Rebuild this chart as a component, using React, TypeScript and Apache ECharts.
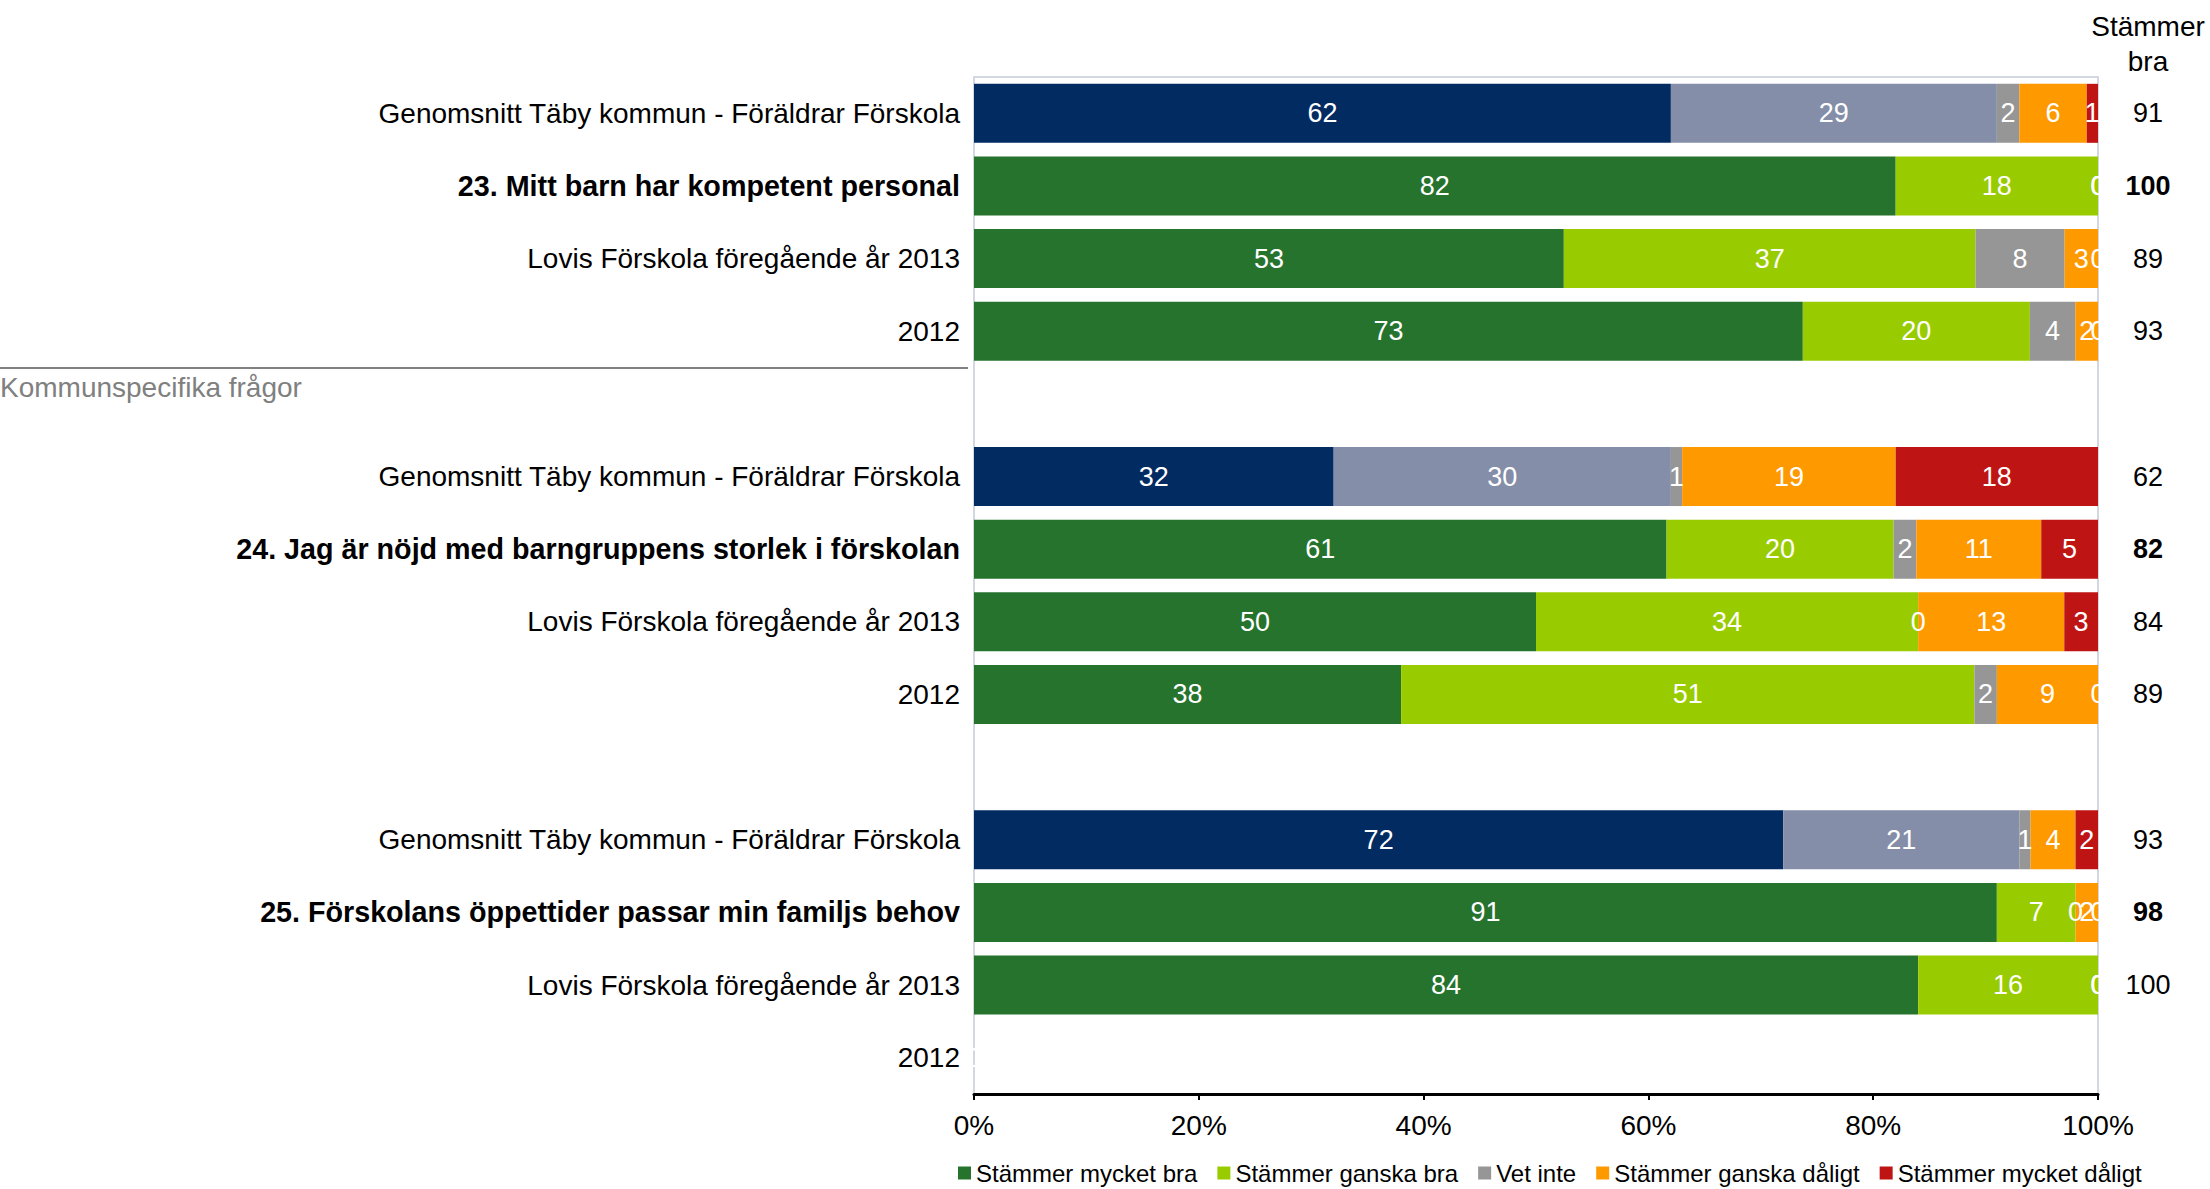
import React, { useEffect, useRef } from "react";
import * as echarts from "echarts";

const FONT = "'Liberation Sans', Arial, Helvetica, sans-serif";

const categories = [
  "Genomsnitt Täby kommun - Föräldrar Förskola",
  "23. Mitt barn har kompetent personal",
  "Lovis Förskola föregående år 2013",
  "2012",
  "",
  "Genomsnitt Täby kommun - Föräldrar Förskola",
  "24. Jag är nöjd med barngruppens storlek i förskolan",
  "Lovis Förskola föregående år 2013",
  "2012",
  "",
  "Genomsnitt Täby kommun - Föräldrar Förskola",
  "25. Förskolans öppettider passar min familjs behov",
  "Lovis Förskola föregående år 2013",
  "2012",
];
const boldRows = [false, true, false, false, false, false, true, false, false, false, false, true, false, false];
const averageRows = [true, false, false, false, false, true, false, false, false, false, true, false, false, false];

const seriesNames = [
  "Stämmer mycket bra",
  "Stämmer ganska bra",
  "Vet inte",
  "Stämmer ganska dåligt",
  "Stämmer mycket dåligt",
];
const mycketBra = [62, 82, 53, 73, null, 32, 61, 50, 38, null, 72, 91, 84, 0];
const ganskaBra = [29, 18, 37, 20, null, 30, 20, 34, 51, null, 21, 7, 16, 0];
const vetInte = [2, 0, 8, 4, null, 1, 2, 0, 2, null, 1, 0, 0, 0];
const ganskaDaligt = [6, 0, 3, 2, null, 19, 11, 13, 9, null, 4, 2, 0, 0];
const mycketDaligt = [1, 0, 0, 0, null, 18, 5, 3, 0, null, 2, 0, 0, 0];
const stammerBra = ["91", "100", "89", "93", "", "62", "82", "84", "89", "", "93", "98", "100", ""];

const xTicks = [0, 20, 40, 60, 80, 100];

const seriesColors = ["#26732E", "#99CC00", "#969696", "#FF9900", "#BF1414"];
const averageColors = ["#022B62", "#848EA8"];

export default function App() {
  const ref = useRef<HTMLDivElement>(null);

  useEffect(() => {
    if (!ref.current) return;
    const chart = echarts.init(ref.current, null, { renderer: "svg" });
    const values = [mycketBra, ganskaBra, vetInte, ganskaDaligt, mycketDaligt];
    const idx = categories.map((_, i) => String(i));
    // 100% stacked: each row is scaled to fill the full width, labels keep the shown (rounded) values
    const rowSums = categories.map((_, i) =>
      values.reduce((acc, arr) => acc + (arr[i] === null ? 0 : (arr[i] as number)), 0)
    );

    const series = values.map((arr, s) => ({
      name: seriesNames[s],
      type: "bar",
      stack: "total",
      yAxisIndex: 0,
      barWidth: 59,
      itemStyle: { color: seriesColors[s] },
      label: {
        show: true,
        position: "inside",
        color: "#ffffff",
        fontSize: 27,
        fontFamily: FONT,
        textBorderWidth: 0,
        formatter: (p: any) => {
          const raw = arr[p.dataIndex];
          return raw === null || raw === undefined ? "" : String(raw);
        },
      },
      data: arr.map((v, i) => {
        if (v === null) return null;
        const scaled = rowSums[i] > 0 ? (v * 100) / rowSums[i] : 0;
        return s < 2 && averageRows[i]
          ? { value: scaled, itemStyle: { color: averageColors[s] } }
          : { value: scaled };
      }),
    }));

    chart.setOption({
      animation: false,
      backgroundColor: "#ffffff",
      textStyle: { fontFamily: FONT },
      grid: {
        left: 974,
        right: 112,
        top: 77,
        bottom: 95,
        show: true,
        borderColor: "#D3D7E0",
        borderWidth: 2,
        containLabel: false,
      },
      legend: {
        left: 958,
        top: 1160,
        itemWidth: 13,
        itemHeight: 13,
        itemGap: 20,
        padding: 0,
        icon: "rect",
        data: seriesNames,
        textStyle: { fontSize: 24, color: "#000", fontFamily: FONT, lineHeight: 26 },
      },
      xAxis: {
        type: "value",
        min: xTicks[0],
        max: xTicks[xTicks.length - 1],
        interval: 20,
        axisLine: { show: true, lineStyle: { color: "#000", width: 3 } },
        axisTick: { show: true, length: 6, lineStyle: { color: "#000", width: 2 } },
        axisLabel: { formatter: "{value}%", fontSize: 28, color: "#000", margin: 17, fontFamily: FONT },
        splitLine: { show: false },
      },
      yAxis: [
        {
          type: "category",
          inverse: true,
          data: idx,
          axisLine: { show: false },
          axisTick: { show: false },
          axisLabel: {
            interval: 0,
            margin: 14,
            formatter: (v: string) => {
              const i = Number(v);
              const t = categories[i];
              if (!t) return "";
              return boldRows[i] ? `{b|${t}}` : `{n|${t}}`;
            },
            rich: {
              n: { fontSize: 28, color: "#000", fontFamily: FONT },
              b: { fontSize: 28.7, color: "#000", fontWeight: "bold", fontFamily: FONT },
            },
          },
        },
        {
          type: "category",
          inverse: true,
          position: "right",
          data: idx,
          axisLine: { show: false },
          axisTick: { show: false },
          axisLabel: {
            interval: 0,
            margin: 50,
            align: "center",
            formatter: (v: string) => {
              const i = Number(v);
              const t = stammerBra[i];
              if (!t) return "";
              return boldRows[i] ? `{b|${t}}` : `{n|${t}}`;
            },
            rich: {
              n: { fontSize: 27, color: "#000", fontFamily: FONT },
              b: { fontSize: 27, color: "#000", fontWeight: "bold", fontFamily: FONT },
            },
          },
        },
      ],
      graphic: [
        {
          type: "text",
          x: 2148,
          y: 26,
          style: { text: "Stämmer", fontSize: 28, fill: "#000", align: "center", verticalAlign: "middle", fontFamily: FONT },
        },
        {
          type: "text",
          x: 2148,
          y: 61,
          style: { text: "bra", fontSize: 28, fill: "#000", align: "center", verticalAlign: "middle", fontFamily: FONT },
        },
        {
          type: "line",
          shape: { x1: 0, y1: 368, x2: 968, y2: 368 },
          style: { stroke: "#808080", lineWidth: 2 },
        },
        {
          type: "text",
          x: 0,
          y: 387,
          style: { text: "Kommunspecifika frågor", fontSize: 28, fill: "#808080", align: "left", verticalAlign: "middle", fontFamily: FONT },
        },
      ],
      series,
    });

    return () => chart.dispose();
  }, []);

  return (
    <div
      ref={ref}
      style={{ position: "absolute", left: 0, top: 0, width: 2210, height: 1189, background: "#fff" }}
    />
  );
}
